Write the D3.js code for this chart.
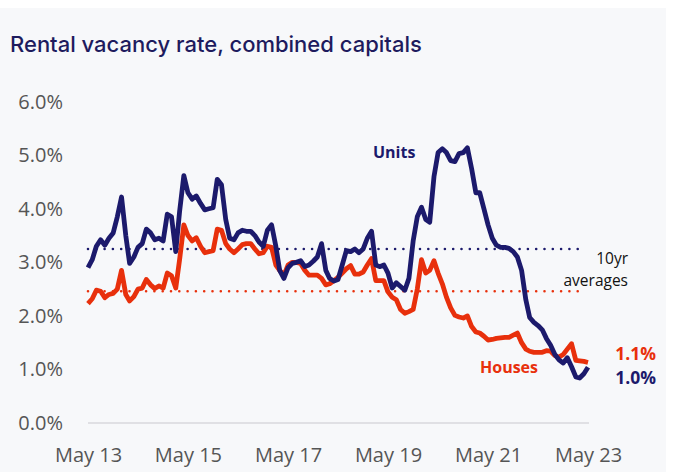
<!DOCTYPE html>
<html>
<head>
<meta charset="utf-8">
<script src="https://cdn.jsdelivr.net/npm/d3@7"></script>
<style>
  html, body { margin: 0; padding: 0; background: #ffffff; }
  svg { display: block; }
</style>
</head>
<body>
<svg id="chart" width="680" height="472"></svg>
<script>
// ---- Data (monthly, May 2013 – May 2023) ----
const startMonth = "2013-05";
const units = [
  2.90,3.05,3.30,3.42,3.32,3.45,3.55,3.85,4.22,3.50,2.98,3.10,
  3.28,3.35,3.62,3.55,3.42,3.45,3.40,3.90,3.85,3.20,3.95,4.62,
  4.30,4.18,4.24,4.10,3.98,4.00,4.02,4.55,4.45,3.80,3.45,3.42,
  3.55,3.60,3.58,3.58,3.50,3.38,3.30,3.60,3.70,3.30,2.85,2.70,
  2.90,2.98,3.00,3.03,2.92,2.95,3.02,3.10,3.35,2.85,2.70,2.65,
  2.68,2.95,3.22,3.20,3.25,3.18,3.25,3.45,3.58,2.95,2.92,2.95,
  2.80,2.52,2.62,2.55,2.48,2.70,3.40,3.85,4.03,3.80,3.75,4.60,
  5.05,5.12,5.05,4.90,4.88,5.03,5.05,5.14,4.75,4.30,4.30,4.00,
  3.70,3.45,3.32,3.28,3.28,3.26,3.20,3.10,2.85,2.30,1.97,1.88,
  1.82,1.74,1.58,1.45,1.28,1.18,1.12,1.22,1.05,0.86,0.84,0.92,
  1.04
];
const houses = [
  2.23,2.32,2.48,2.46,2.34,2.40,2.42,2.50,2.85,2.40,2.28,2.36,
  2.50,2.52,2.68,2.58,2.51,2.56,2.52,2.80,2.75,2.52,3.05,3.70,
  3.50,3.40,3.46,3.30,3.18,3.20,3.22,3.62,3.60,3.35,3.25,3.18,
  3.25,3.33,3.35,3.35,3.25,3.16,3.18,3.30,3.28,2.95,2.85,2.76,
  2.95,3.00,3.00,2.98,2.85,2.76,2.76,2.76,2.70,2.58,2.60,2.66,
  2.72,2.80,2.88,2.94,2.78,2.78,2.82,2.95,3.07,2.66,2.66,2.66,
  2.45,2.35,2.30,2.12,2.05,2.08,2.12,2.50,3.05,2.80,2.85,3.03,
  2.80,2.60,2.35,2.15,2.01,1.98,1.96,2.00,1.80,1.70,1.68,1.62,
  1.55,1.56,1.58,1.59,1.60,1.60,1.64,1.68,1.50,1.38,1.34,1.32,
  1.32,1.32,1.35,1.34,1.26,1.23,1.28,1.38,1.48,1.17,1.16,1.15,
  1.13
];
const unitsAvg = 3.25;
const housesAvg = 2.46;
const yTicks = [0, 1, 2, 3, 4, 5, 6];
const xTickLabels = ["May 13", "May 15", "May 17", "May 19", "May 21", "May 23"];
const title = "Rental vacancy rate, combined capitals";
const unitsLast = "1.0%";
const housesLast = "1.1%";

// ---- Setup ----
const NAVY = "#1c1a6c";
const RED = "#e8300c";
const svg = d3.select("#chart");
const parseMonth = d3.timeParse("%Y-%m");
const t0 = parseMonth(startMonth);
const dates = units.map((_, i) => d3.timeMonth.offset(t0, i));
const xTickDates = xTickLabels.map(s => d3.timeParse("%b %y")(s));

svg.append("rect").attr("x", 0).attr("y", 8).attr("width", 666).attr("height", 464)
  .attr("fill", "#f7f8fa");

const x = d3.scaleTime().domain([t0, dates[dates.length - 1]]).range([88, 588]);
const y = d3.scaleLinear().domain([0, 6]).range([423, 101.7]);

// title
svg.append("text").attr("x", 10).attr("y", 52)
  .attr("font-family", "Inter, 'Noto Sans', sans-serif")
  .attr("font-size", 22).attr("font-weight", 500).attr("fill", "#1e1b5e")
  .text(title);

// zero line
svg.append("line").attr("x1", x.range()[0]).attr("x2", x.range()[1] + 1)
  .attr("y1", y(0)).attr("y2", y(0))
  .attr("stroke", "#d9d9dc").attr("stroke-width", 1.5);

// y axis
const yAxis = svg.append("g").attr("transform", "translate(88,0)")
  .call(d3.axisLeft(y).tickValues(yTicks).tickSize(0).tickPadding(25)
    .tickFormat(d => d3.format(".1f")(d) + "%"));
yAxis.select(".domain").remove();
yAxis.selectAll("text").attr("font-family", "'Open Sans', sans-serif")
  .attr("font-size", 20).attr("fill", "#555555");

// x axis
const xAxis = svg.append("g").attr("transform", `translate(0,${y(0)})`)
  .call(d3.axisBottom(x).tickValues(xTickDates).tickSize(0).tickPadding(25)
    .tickFormat((d, i) => xTickLabels[i]));
xAxis.select(".domain").remove();
xAxis.selectAll("text").attr("font-family", "'Open Sans', sans-serif")
  .attr("font-size", 20).attr("fill", "#555555");

// average dotted lines
function avgLine(v, color) {
  svg.append("line").attr("x1", x.range()[0]).attr("x2", 584)
    .attr("y1", y(v)).attr("y2", y(v))
    .attr("stroke", color).attr("stroke-width", 2.6)
    .attr("stroke-linecap", "round").attr("stroke-dasharray", "0 8.3");
}
avgLine(unitsAvg, NAVY);
avgLine(housesAvg, RED);

const line = d3.line().x((d, i) => x(dates[i])).y(d => y(d)).curve(d3.curveLinear);

svg.append("path").datum(houses).attr("d", line)
  .attr("fill", "none").attr("stroke", RED).attr("stroke-width", 4.8)
  .attr("stroke-linejoin", "round");
svg.append("path").datum(units).attr("d", line)
  .attr("fill", "none").attr("stroke", NAVY).attr("stroke-width", 4.8)
  .attr("stroke-linejoin", "round");

// annotations
svg.append("text").attr("x", 373).attr("y", 158)
  .attr("font-family", "'Open Sans', sans-serif").attr("font-weight", 700)
  .attr("font-size", 16).attr("fill", NAVY).text("Units");
svg.append("text").attr("x", 480).attr("y", 373)
  .attr("font-family", "'Open Sans', sans-serif").attr("font-weight", 700)
  .attr("font-size", 16).attr("fill", RED).text("Houses");
svg.append("text").attr("x", 628).attr("y", 264).attr("text-anchor", "end")
  .attr("font-family", "'Open Sans', sans-serif")
  .attr("font-size", 15.5).attr("fill", "#111111").text("10yr");
svg.append("text").attr("x", 628).attr("y", 286).attr("text-anchor", "end")
  .attr("font-family", "'Open Sans', sans-serif")
  .attr("font-size", 15.5).attr("fill", "#111111").text("averages");
svg.append("text").attr("x", 656).attr("y", 360).attr("text-anchor", "end")
  .attr("font-family", "'Open Sans', sans-serif").attr("font-weight", 700)
  .attr("font-size", 17.5).attr("fill", RED).text(housesLast);
svg.append("text").attr("x", 656).attr("y", 384).attr("text-anchor", "end")
  .attr("font-family", "'Open Sans', sans-serif").attr("font-weight", 700)
  .attr("font-size", 17.5).attr("fill", NAVY).text(unitsLast);
</script>
</body>
</html>
